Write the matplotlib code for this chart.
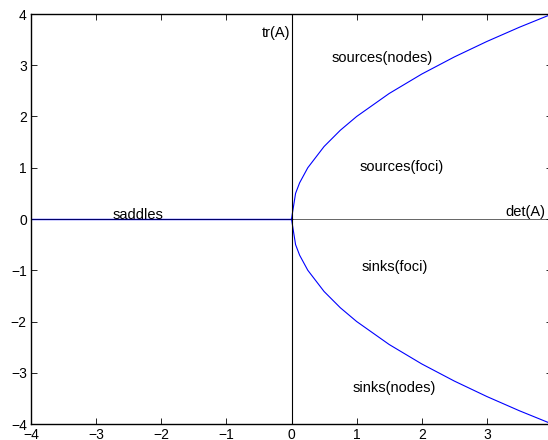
import numpy as np
import matplotlib.pyplot as plt

plt.rcParams['font.family'] = ['Liberation Sans', 'DejaVu Sans']

# Points on the boundary tr^2 = 4 det between nodes and foci
det_pts = [0, 0.0625, 0.125, 0.25, 0.5, 0.75, 1.0, 1.5, 2.0, 2.5, 3.0, 3.5, 4.0]
tr_pts = [0, 0.5, 0.707, 1.0, 1.414, 1.732, 2.0, 2.449, 2.828, 3.162, 3.464, 3.742, 4.0]

# Saddle line along the negative det axis
saddle_det = [-4, 0]
saddle_tr = [0, 0]

# Region labels: (det, tr, text)
labels = [
    (-0.46, 3.62, 'tr(A)'),
    (0.62, 3.14, 'sources(nodes)'),
    (1.05, 1.01, 'sources(foci)'),
    (-2.75, 0.08, 'saddles'),
    (3.28, 0.14, 'det(A)'),
    (1.08, -0.94, 'sinks(foci)'),
    (0.94, -3.30, 'sinks(nodes)'),
]

fig = plt.figure(figsize=(5.48, 4.40), dpi=100)
ax = fig.add_axes([31 / 548, 16 / 440, 521 / 548, 410 / 440])

det_arr = np.array(det_pts)
tr_arr = np.array(tr_pts)
ax.plot(det_arr, tr_arr, color='blue', lw=0.8)
ax.plot(det_arr, -tr_arr, color='blue', lw=0.8)
ax.plot(saddle_det, saddle_tr, color='blue', lw=1.0)

# Coordinate axes through the origin
ax.plot([-4, 4], [0, 0], color='black', lw=0.6, alpha=0.7)
ax.plot([0, 0], [-4, 4], color='black', lw=0.8)

for x, y, s in labels:
    ax.text(x, y, s, fontsize=10.5, ha='left', va='center')

ax.set_xlim(-4, 4)
ax.set_ylim(-4, 4)
ax.set_xticks(range(-4, 5))
ax.set_yticks(range(-4, 5))
ax.set_xticklabels(['\u22124', '\u22123', '\u22122', '\u22121', '0', '1', '2', '3', '4'])
ax.set_yticklabels(['\u22124', '\u22123', '\u22122', '\u22121', '0', '1', '2', '3', '4'])
ax.tick_params(direction='in', top=True, right=True, length=4, width=0.6,
               labelsize=10, pad=3)
for sp in ax.spines.values():
    sp.set_linewidth(1.0)

fig.savefig('out.png', dpi=100)
